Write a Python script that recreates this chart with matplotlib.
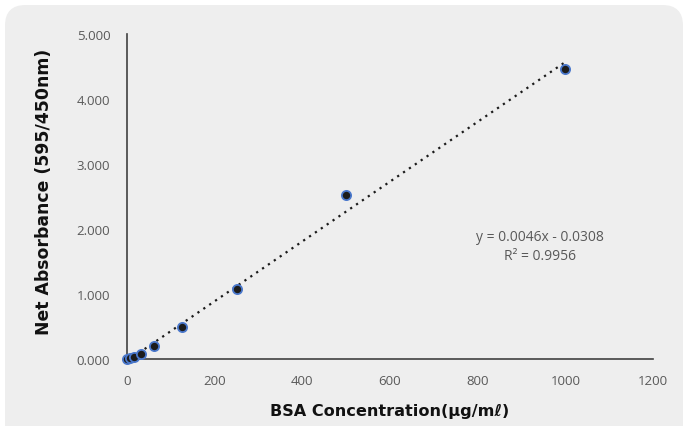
import matplotlib
matplotlib.use("Agg")
import matplotlib.pyplot as plt
from matplotlib.patches import FancyBboxPatch
from matplotlib.ticker import FormatStrFormatter
import numpy as np

# Data
concentration = [0, 7.8, 15.6, 31.25, 62.5, 125, 250, 500, 1000]
absorbance = [0.000, 0.010, 0.030, 0.080, 0.200, 0.490, 1.077, 2.520, 4.460]
slope = 0.0046
intercept = -0.0308
x_ticks = [0, 200, 400, 600, 800, 1000, 1200]
y_ticks = [0, 1, 2, 3, 4, 5]

fig = plt.figure(figsize=(6.84, 4.27), dpi=100)
fig.patch.set_facecolor("white")
y_top = (427 - 6) / 427
bg = FancyBboxPatch((5/684, -0.1), 678/684, y_top + 0.1,
                    boxstyle="round,pad=0,rounding_size=0.03",
                    transform=fig.transFigure, facecolor="#eeeeee",
                    edgecolor="none", zorder=-10, mutation_aspect=684/427)
fig.patches.append(bg)

ax = fig.add_axes([127/684, 67/427, 526/684, 325/427])
ax.set_facecolor("none")

fx = np.array([0, 1000])
ax.plot(fx, slope*fx + intercept, linestyle=(0, (1, 2.2)), color="#1a1a1a",
        linewidth=1.6, zorder=2, clip_on=False)
ax.scatter(concentration, absorbance, s=44, facecolor="#1c1c1c",
           edgecolor="#4a78cc", linewidth=1.3, zorder=3, clip_on=False)

ax.set_xlim(0, 1200)
ax.set_ylim(0, 5)
ax.set_xticks(x_ticks)
ax.set_yticks(y_ticks)
ax.yaxis.set_major_formatter(FormatStrFormatter("%.3f"))
ax.tick_params(length=0, labelsize=9.5, colors="#595959")
ax.tick_params(axis="x", pad=11)
ax.tick_params(axis="y", pad=12)
for lab in ax.get_xticklabels() + ax.get_yticklabels():
    lab.set_family(["Open Sans", "DejaVu Sans"])
for s in ["top", "right"]:
    ax.spines[s].set_visible(False)
for s in ["left", "bottom"]:
    ax.spines[s].set_color("#404040")
    ax.spines[s].set_linewidth(1.2)

ax.set_xlabel("BSA Concentration(μg/mℓ)", fontsize=11.6, fontweight="heavy",
              color="#111111", labelpad=11, family=["DejaVu Sans"])
ax.set_ylabel("Net Absorbance (595/450nm)", fontsize=12.4, fontweight="heavy",
              color="#111111", family=["DejaVu Sans"])
ax.yaxis.set_label_coords(-0.141, 0.517)

ax.text(942, 1.74, "y = 0.0046x - 0.0308\nR² = 0.9956", ha="center", va="center",
        fontsize=10, color="#595959", linespacing=1.35,
        family=["Open Sans", "DejaVu Sans"])

fig.savefig("out.png", dpi=100)
